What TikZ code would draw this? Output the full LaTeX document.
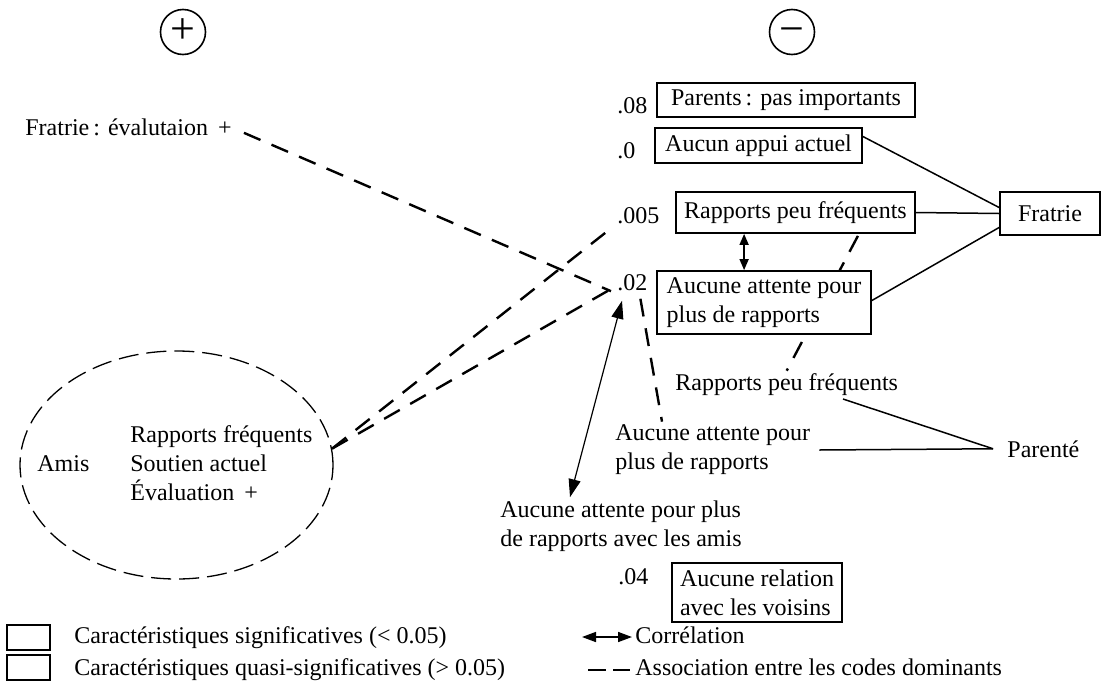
\documentclass[tikz,border=0pt]{standalone}
\usepackage{fontspec}
\setmainfont{Liberation Serif}
\usetikzlibrary{arrows.meta,calc,backgrounds,shapes.geometric}
\begin{document}
\begin{tikzpicture}[x=0.5pt,y=-0.5pt,
  txt/.style={font=\fontsize{12}{14.5}\selectfont, inner sep=0pt},
  box/.style={txt, draw, line width=0.9pt, fill=white, align=left},
  thinline/.style={line width=0.75pt},
  assoc/.style={line width=1.2pt, dash pattern=on 9pt off 6pt},
  corr/.style={line width=0.6pt, {Triangle[length=9pt,width=6pt]}-{Triangle[length=9pt,width=6pt]}},
  corrsmall/.style={line width=0.8pt, {Triangle[length=5.5pt,width=4.5pt]}-{Triangle[length=5.5pt,width=4.5pt]}},
  corrlegend/.style={line width=0.8pt, {Triangle[length=7pt,width=5pt]}-{Triangle[length=7pt,width=5pt]}},
  sign/.style={circle, draw, line width=0.8pt, minimum size=22.5pt, inner sep=0pt, text height=11pt, text depth=0pt, font=\fontsize{22}{22}\selectfont},
  ellstyle/.style={ellipse, draw, line width=0.65pt, dash pattern=on 10pt off 4pt, inner sep=0pt},
  legbox/.style={draw, line width=0.9pt, minimum width=21.5pt, minimum height=12.5pt, inner sep=0pt}
]
\useasboundingbox (0,0) rectangle (1103,691);

% signs
\node[sign] (plus) at (183,32) {+};
\node[sign] (minus) at (792,32) {−};

% left text
\node[txt, anchor=base west] (fe) at (25,135) {Fratrie\,: évalutaion\, +};

% ellipse
\node[ellstyle, minimum width=156.5pt, minimum height=114pt] (amis) at (176.5,465) {};
\node[txt, anchor=base west] (amislbl) at (37,471) {Amis};
\node[txt, anchor=west, align=left] (amistxt) at (130,463) {Rapports fréquents\\Soutien actuel\\Évaluation\, +};

% numbers
\node[txt, anchor=base west] (n08) at (617,113) {.08};
\node[txt, anchor=base west] (n0) at (617,158) {.0};
\node[txt, anchor=base west] (n005) at (617,223) {.005};
\node[txt, anchor=base west] (n02) at (617,290) {.02};
\node[txt, anchor=base west] (n04) at (618,584) {.04};

% boxes
\node[box, minimum width=129pt, minimum height=17pt] (pp) at (786,100) {Parents\,: pas importants};
\node[box, minimum width=103.5pt, minimum height=17.5pt] (aa) at (758.5,145.5) {Aucun appui actuel};
\node[box, minimum width=119.5pt, minimum height=20.5pt] (rpf) at (795.5,212.5) {Rapports peu fréquents};
\node[box, minimum width=107pt, minimum height=31.5pt] (aap) at (764,302.5) {Aucune attente pour\\plus de rapports};
\node[box, minimum width=85pt, minimum height=29.5pt] (arv) at (757,592.5) {Aucune relation\\avec les voisins};
\node[box, minimum width=50pt, minimum height=21.5pt] (fr) at (1050,213.5) {Fratrie};

% lower texts
\node[txt, anchor=base west] (rpf2) at (675,390) {Rapports peu fréquents};
\node[txt, anchor=west, align=left] (aap2) at (615,450) {Aucune attente pour\\plus de rapports};
\node[txt, anchor=west, align=left] (am2) at (500,526) {Aucune attente pour plus\\de rapports avec les amis};
\node[txt, anchor=base west] (par) at (1007,457) {Parenté};

% solid connectors
\draw[thinline] ($(aa.east)+(0,-9)$) -- ($(fr.west)+(0,-6)$);
\draw[thinline] (rpf.east) -- (fr.west);
\draw[thinline] ($(aap.east)+(0,-2)$) -- ($(fr.west)+(0,14)$);
\draw[thinline] ($(rpf2.base west)+(168,9)$) -- ($(par.west)+(-14,0)$);
\draw[thinline] ($(aap2.east)+(9,0)$) -- ($(par.west)+(-14,0)$);

% dashed associations
\begin{pgfonlayer}{background}
\draw[assoc] ($(rpf.south east)+(-58,2)$) -- ($(rpf2.north)+(0,-2)$);
\end{pgfonlayer}
\draw[assoc] ($(n02.south)+(8,8)$) -- ($(aap2.north west)+(47,-3)$);
\draw[assoc] ($(fe.east)+(12,6)$) -- ($(n02.west)+(-6,9)$);
\draw[assoc] (amis.6) -- ($(n005.south west)+(-4,3)$);
\draw[assoc] (amis.6) -- ($(n02.south west)+(-2,-4)$);

% correlations
\draw[corrsmall] ($(rpf.south west)+(69,0)$) -- ($(aap.north west)+(88,0)$);
\draw[corr] ($(n02.south west)+(5,10)$) -- ($(am2.north west)+(70,-3)$);

% legend
\node[legbox] (lg1) at (28.5,637.5) {};
\node[legbox] (lg2) at (28.5,667.5) {};
\node[txt, anchor=base west] (lt1) at (74,643) {Caractéristiques significatives (< 0.05)};
\node[txt, anchor=base west] (lt2) at (74,675) {Caractéristiques quasi-significatives (> 0.05)};
\coordinate (lc1) at (582,637);
\coordinate (lc2) at (632,637);
\draw[corrlegend] (lc1) -- (lc2);
\node[txt, anchor=base west] (lt3) at (635,643) {Corrélation};
\coordinate (ld1) at (588,670);
\coordinate (ld2) at (630,670);
\draw[assoc, dash pattern=on 9pt off 3.5pt] (ld1) -- (ld2);
\node[txt, anchor=base west] (lt4) at (635,675) {Association entre les codes dominants};
\end{tikzpicture}
\end{document}
